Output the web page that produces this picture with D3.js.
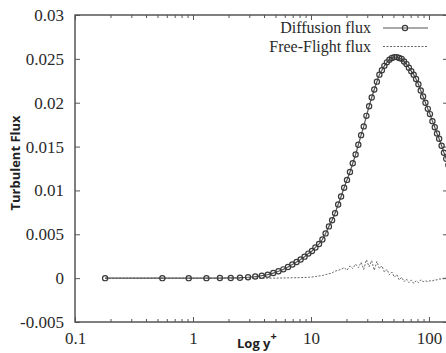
<!DOCTYPE html>
<html>
<head>
<meta charset="utf-8">
<script src="https://cdnjs.cloudflare.com/ajax/libs/d3/7.8.5/d3.min.js"></script>
<style>
  body { margin: 0; background: #fff; }
  #chart { width: 446px; height: 353px; overflow: hidden; }
</style>
</head>
<body>
<div id="chart"></div>
<script>
// grid points (y+) shared by both series
var yPlus = [0.18, 0.55, 0.92, 1.30, 1.69, 2.09, 2.50, 2.93, 3.37, 3.83, 4.30, 4.79, 5.30, 5.83,
  6.38, 6.95, 7.55, 8.17, 8.82, 9.50, 10.2, 10.9, 11.7, 12.5, 13.3, 14.2, 15.1, 16.0, 17.0,
  18.0, 19.1, 20.2, 21.4, 22.6, 23.9, 25.2, 26.6, 28.0, 29.5, 31.1, 32.7, 34.4, 36.2, 38.0,
  39.9, 41.9, 44.0, 46.2, 48.5, 50.9, 53.4, 56.0, 58.7, 61.5, 64.5, 67.6, 70.8, 74.2, 77.7,
  81.4, 85.2, 89.2, 93.4, 97.8, 102, 107, 112, 117, 122, 128, 134, 140, 146];

var diffusionFlux = [0, 0, 0, 0, 0.00001, 0.00002, 0.00005, 0.0001, 0.00018, 0.00028, 0.0004,
  0.00058, 0.00078, 0.001, 0.00127, 0.00155, 0.00184, 0.00212, 0.00245, 0.0028, 0.0031,
  0.0035, 0.0039, 0.0044, 0.0051, 0.0059, 0.0066, 0.0074, 0.0084, 0.0093, 0.0103, 0.0112,
  0.0121, 0.0131, 0.0141, 0.0152, 0.0163, 0.0173, 0.0185, 0.0196, 0.0206, 0.0215, 0.0224,
  0.0232, 0.0237, 0.0242, 0.0246, 0.0249, 0.0251, 0.0252, 0.0252, 0.0251, 0.0250, 0.0247,
  0.0244, 0.0240, 0.0236, 0.0232, 0.0227, 0.0221, 0.0214, 0.0207, 0.0200, 0.0193, 0.0187,
  0.0179, 0.0172, 0.0165, 0.0159, 0.0151, 0.0143, 0.0136, 0.0129];

var freeFlightFlux = [0, 0, 0, 0, 0, 0, 0, 0, 0, 0, 0, 0, 0.00001, 0.00002, 0.00003, 0.00004,
  0.00005, 0.00006, 0.00008, 0.0001, 0.00013, 0.00018, 0.00025, 0.0003, 0.0004, 0.0005,
  0.0006, 0.0008, 0.0009, 0.001, 0.0012, 0.0009, 0.0014, 0.0011, 0.0016, 0.0012, 0.0018,
  0.0010, 0.0021, 0.0013, 0.0020, 0.0009, 0.0019, 0.0011, 0.0014, 0.0007, 0.0010, 0.0004,
  0.0007, 0.0001, 0.0004, -0.0002, 0.0001, -0.0004, -0.0001, -0.0005, -0.0002, -0.0006,
  -0.0003, -0.0005, -0.0002, -0.0004, -0.0003, -0.0004, -0.0003, -0.0003, -0.0002, -0.0002,
  -0.0001, -0.0001, 0, 0.0001, 0.0002];

var xMajorTicks = [0.1, 1, 10, 100];
var xMinorTicks = [0.2, 0.3, 0.4, 0.5, 0.6, 0.7, 0.8, 0.9, 2, 3, 4, 5, 6, 7, 8, 9,
  20, 30, 40, 50, 60, 70, 80, 90];
var yTicks = [-0.005, 0, 0.005, 0.01, 0.015, 0.02, 0.025, 0.03];
var seriesNames = ["Diffusion flux", "Free-Flight flux"];

render();

function render() {
  var left = 75, right = 448, top = 15, bottom = 322;
  var serif = "'Liberation Serif', 'Times New Roman', serif";
  var sans = "'Open Sans', 'DejaVu Sans', sans-serif";

  var svg = d3.select("#chart")
    .append("svg")
    .attr("width", 446)
    .attr("height", 353);

  var xScale = d3.scaleLog()
    .domain([0.1, 145])
    .range([left, right]);

  var yScale = d3.scaleLinear()
    .domain([-0.005, 0.03])
    .range([bottom, top]);

  // minor ticks, top and bottom, pointing inward
  svg.append("g")
    .attr("transform", "translate(0," + bottom + ")")
    .call(d3.axisBottom(xScale).tickValues(xMinorTicks).tickSize(-3).tickFormat(""));
  svg.append("g")
    .attr("transform", "translate(0," + top + ")")
    .call(d3.axisTop(xScale).tickValues(xMinorTicks).tickSize(-3).tickFormat(""));

  // major ticks with labels
  svg.append("g")
    .attr("transform", "translate(0," + bottom + ")")
    .call(d3.axisBottom(xScale)
      .tickValues(xMajorTicks)
      .tickSize(-5)
      .tickPadding(10)
      .tickFormat(function (d) { return d3.format("")(d); })
    );
  svg.append("g")
    .attr("transform", "translate(0," + top + ")")
    .call(d3.axisTop(xScale).tickValues(xMajorTicks).tickSize(-5).tickFormat(""));

  svg.append("g")
    .attr("transform", "translate(" + left + ",0)")
    .call(d3.axisLeft(yScale)
      .tickValues(yTicks)
      .tickSize(-5)
      .tickPadding(11)
      .tickFormat(function (d) { return d === 0 ? "0" : String(+d.toFixed(3)); })
    );
  svg.append("g")
    .attr("transform", "translate(" + right + ",0)")
    .call(d3.axisRight(yScale).tickValues(yTicks).tickSize(-5).tickFormat(""));

  svg.selectAll(".domain").remove();
  svg.selectAll(".tick line")
    .attr("stroke", "#555")
    .attr("stroke-width", 1);
  svg.selectAll(".tick text")
    .attr("fill", "#2a2a2a")
    .style("font-family", serif)
    .style("font-size", "17px");

  // frame
  svg.append("rect")
    .attr("x", left)
    .attr("y", top)
    .attr("width", right - left)
    .attr("height", bottom - top)
    .attr("fill", "none")
    .attr("stroke", "#555")
    .attr("stroke-width", 1.5);

  var diffusion = yPlus.map(function (d, i) { return { x: d, y: diffusionFlux[i] }; });
  var freeFlight = yPlus.map(function (d, i) { return { x: d, y: freeFlightFlux[i] }; });

  var line = d3.line()
    .x(function (d) { return xScale(d.x); })
    .y(function (d) { return yScale(d.y); });

  svg.append("path")
    .datum(freeFlight)
    .attr("fill", "none")
    .attr("stroke", "#555")
    .attr("stroke-width", 0.9)
    .attr("stroke-dasharray", "2,1.5")
    .attr("d", line);

  svg.append("path")
    .datum(diffusion)
    .attr("fill", "none")
    .attr("stroke", "#555")
    .attr("stroke-width", 1.2)
    .attr("d", line);

  svg.append("g")
    .selectAll("circle")
    .data(diffusion)
    .enter()
    .append("circle")
    .attr("cx", function (d) { return xScale(d.x); })
    .attr("cy", function (d) { return yScale(d.y); })
    .attr("r", 2.6)
    .attr("fill", "none")
    .attr("stroke", "#3a3a3a")
    .attr("stroke-width", 1.2);

  // legend
  var legend = svg.append("g");
  seriesNames.forEach(function (name, i) {
    var ly = 28 + i * 18.5;
    legend.append("text")
      .attr("x", 371)
      .attr("y", ly + 5)
      .attr("text-anchor", "end")
      .attr("fill", "#2a2a2a")
      .style("font-family", serif)
      .style("font-size", "16px")
      .text(name);
    legend.append("line")
      .attr("x1", 383)
      .attr("x2", 428)
      .attr("y1", ly)
      .attr("y2", ly)
      .attr("stroke", "#555")
      .attr("stroke-width", i === 0 ? 1.2 : 0.9)
      .attr("stroke-dasharray", i === 0 ? null : "2,1.5");
    if (i === 0) {
      legend.append("circle")
        .attr("cx", 405)
        .attr("cy", ly)
        .attr("r", 2.6)
        .attr("fill", "none")
        .attr("stroke", "#3a3a3a")
        .attr("stroke-width", 1.2);
    }
  });

  // axis titles
  svg.append("text")
    .attr("transform", "translate(20,163) rotate(-90)")
    .attr("text-anchor", "middle")
    .attr("fill", "#222")
    .style("font-family", sans)
    .style("font-weight", "bold")
    .style("font-size", "13px")
    .text("Turbulent Flux");

  var xt = svg.append("text")
    .attr("x", 237)
    .attr("y", 348)
    .attr("fill", "#222")
    .style("font-family", sans)
    .style("font-weight", "bold")
    .style("font-size", "13px");
  xt.append("tspan").text("Log y");
  xt.append("tspan")
    .attr("dy", -8)
    .style("font-size", "11px")
    .text("+");
}
</script>
</body>
</html>
